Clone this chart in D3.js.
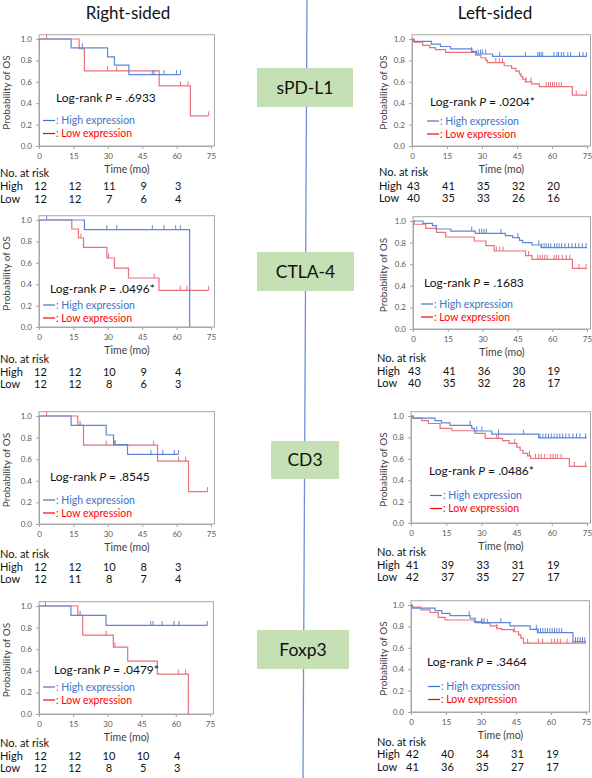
<!DOCTYPE html>
<html><head><meta charset="utf-8">
<script src="https://cdn.jsdelivr.net/npm/d3@7"></script>
<style>body{margin:0;background:#fff}svg{display:block;font-family:Lato,'Open Sans',sans-serif}</style>
</head><body><svg id="c" width="592" height="778"></svg>
<script>
// ---------- DATA ----------
const sides = ["Right-sided", "Left-sided"];
const markers = ["sPD-L1", "CTLA-4", "CD3", "Foxp3"];
const xTicks = [0, 15, 30, 45, 60, 75];
const yTicks = [0, 0.2, 0.4, 0.6, 0.8, 1.0];
const riskTimes = [0, 15, 30, 45, 60];
const seriesNames = ["High expression", "Low expression"];
const pValues = [".6933", ".0204*", ".0496*", ".1683", ".8545", ".0486*", ".0479*", ".3464"];

// sPD-L1 right-sided
const p1HiSteps = [[0,1],[14,0.917],[29.9,0.833],[32.9,0.756],[39.2,0.667]];
const p1HiEnd = 61.7;
const p1HiCens = [18.9,49.4,50.2,54.5,59.9,61.7];
const p1LoSteps = [[0,1],[17.5,0.909],[19.8,0.703],[52.4,0.562],[66,0.281]];
const p1LoEnd = 74;
const p1LoCens = [3.3,29.9,33.9,61.7,65,74];
const p1RiskHigh = [12,12,11,9,3];
const p1RiskLow = [12,12,7,6,4];

// sPD-L1 left-sided
const p2HiSteps = [[0,1],[0.5,0.977],[8.3,0.953],[12.2,0.93],[16.5,0.907],[25.6,0.884],[27.6,0.86],[34.5,0.837]];
const p2HiEnd = 75;
const p2HiCens = [25.6,28.4,29.4,30.2,31.6,37.6,48.6,53.9,54.6,55.3,56.0,60.8,62.1,62.8,64.0,65.0,66.8,68.0,71.8,73.3,74.7];
const p2LoSteps = [[0,1],[1,0.97],[4.6,0.94],[7.6,0.92],[10,0.9],[14.4,0.875],[27.3,0.85],[29.5,0.825],[31.6,0.8],[32.3,0.78],[39.5,0.75],[42.7,0.725],[44.5,0.7],[46,0.675],[46.7,0.65],[47.4,0.625],[48.6,0.6],[51.3,0.58],[54.6,0.555],[68.7,0.475]];
const p2LoEnd = 75;
const p2LoCens = [35.9,37.4,38.8,48.9,51.0,57.5,58.5,59.3,60.2,61.0,62.0,63.0,64.0,70.4,74.7];
const p2RiskHigh = [43,41,35,32,20];
const p2RiskLow = [40,35,33,26,16];

// CTLA-4 right-sided
const p3HiSteps = [[0,1],[19.8,0.91],[65.7,0]];
const p3HiEnd = 65.7;
const p3HiCens = [3.3,29.6,33.9,49.4,54.5,59.6,61.6];
const p3LoSteps = [[0,1],[14.3,0.916],[17.2,0.832],[19.4,0.745],[29.6,0.645],[32.9,0.551],[39,0.458],[52.3,0.343]];
const p3LoEnd = 74;
const p3LoCens = [18.3,30.3,50.2,61.6,64.5,74];
const p3RiskHigh = [12,12,10,9,4];
const p3RiskLow = [12,12,8,6,3];

// CTLA-4 left-sided
const p4HiSteps = [[0,1],[4.3,0.978],[8.4,0.957],[10.1,0.926],[16.3,0.907],[26.8,0.886],[39.8,0.864],[43,0.846],[45.9,0.821],[47.3,0.8],[51.3,0.778],[55.2,0.753]];
const p4HiEnd = 75;
const p4HiCens = [25.3,28.6,29.6,30.6,31.6,37.9,45.2,54.2,55.5,56.5,57.4,58.4,59.4,61.0,62.0,63.0,64.0,65.5,67.0,68.5,70.0,71.5,73.0,74.6];
const p4LoSteps = [[0,1],[0.5,0.97],[5.5,0.932],[10.1,0.895],[14.1,0.852],[26.4,0.815],[31.4,0.772],[35,0.722],[48.5,0.679],[51.3,0.645],[68.7,0.562]];
const p4LoEnd = 75;
const p4LoCens = [35.9,37.4,38.8,49.8,53.8,54.8,55.8,56.8,57.8,60.8,61.8,62.8,64.4,66.0,67.6,71.5,74.6];
const p4RiskHigh = [43,41,36,30,19];
const p4RiskLow = [40,35,32,28,17];

// CD3 right-sided
const p5HiSteps = [[0,1],[14,0.914],[29.3,0.824],[32.5,0.735],[38.6,0.645]];
const p5HiEnd = 60.9;
const p5HiCens = [17.9,33.2,48.8,54,59,60.9];
const p5LoSteps = [[0,1],[16.9,0.914],[19.4,0.73],[51.7,0.583],[65.2,0.3]];
const p5LoEnd = 73.5;
const p5LoCens = [3.3,29.3,32.9,50,60.9,64,73.5];
const p5RiskHigh = [12,12,10,8,3];
const p5RiskLow = [12,11,8,7,4];

// CD3 left-sided
const p6HiSteps = [[0,1],[1,0.98],[10.2,0.956],[13,0.935],[16.6,0.912],[25.9,0.884],[27,0.86],[34.4,0.83],[54.4,0.795]];
const p6HiEnd = 75;
const p6HiCens = [25.2,28,30.2,37.3,48,55,56.2,57.4,58.6,59.8,61.0,62.2,63.4,64.6,66.0,67.4,69.0,70.5,72.0,74.4];
const p6LoSteps = [[0,1],[0.5,0.98],[4.6,0.956],[7.4,0.93],[12.4,0.884],[17.4,0.862],[27.3,0.837],[31.6,0.79],[39,0.77],[41.8,0.744],[45.1,0.71],[46.5,0.68],[47.7,0.65],[49.7,0.628],[51,0.603],[67.5,0.53]];
const p6LoEnd = 75;
const p6LoCens = [36.5,37.3,44.2,50.5,53,54.5,55.5,57,59.5,60.5,61.5,62.5,64,69.5,74.4];
const p6RiskHigh = [41,39,33,31,19];
const p6RiskLow = [42,37,35,27,17];

// Foxp3 right-sided
const p7HiSteps = [[0,1],[14,0.914],[29.4,0.82]];
const p7HiEnd = 73.8;
const p7HiCens = [18,49,50,54,59.2,61.4,73.8];
const p7LoSteps = [[0,1],[17,0.914],[19.2,0.73],[32.6,0.62],[38.9,0.49],[51.9,0.37],[65.5,0]];
const p7LoEnd = 65.5;
const p7LoCens = [2.8,29.4,33.3,61.1,64.3];
const p7RiskHigh = [12,12,10,10,4];
const p7RiskLow = [12,12,8,5,3];

// Foxp3 left-sided
const p8HiSteps = [[0,1],[0.5,0.97],[10.3,0.947],[13.2,0.922],[16.7,0.9],[25.3,0.876],[27.5,0.835],[42.5,0.804],[51.1,0.773],[54.2,0.742],[69.4,0.658]];
const p8HiEnd = 75;
const p8HiCens = [24.9,30.3,31.3,38.5,53.7,54.5,55.5,56.5,57.5,58.5,59.5,60.5,61.5,62.5,63.5,64.6,70.5,71.5,72.5,73.5,74.5];
const p8LoSteps = [[0,1],[0.5,0.98],[4.2,0.955],[8.2,0.93],[11.7,0.885],[14.6,0.86],[27,0.845],[30.3,0.83],[33.9,0.804],[36.8,0.78],[38.9,0.77],[43.9,0.75],[46.1,0.72],[47.1,0.69],[48.2,0.643]];
const p8LoEnd = 75;
const p8LoCens = [30.3,32.8,36.8,44.3,50,54.5,56.4,60.3,61.5,62.7,64,66.9,70.5];
const p8RiskHigh = [42,40,34,31,19];
const p8RiskLow = [41,36,35,27,17];

// ---------- ASSEMBLY (no positions in data) ----------
const panelsData = [
  {hi:[p1HiSteps,p1HiEnd,p1HiCens], lo:[p1LoSteps,p1LoEnd,p1LoCens], rh:p1RiskHigh, rl:p1RiskLow},
  {hi:[p2HiSteps,p2HiEnd,p2HiCens], lo:[p2LoSteps,p2LoEnd,p2LoCens], rh:p2RiskHigh, rl:p2RiskLow},
  {hi:[p3HiSteps,p3HiEnd,p3HiCens], lo:[p3LoSteps,p3LoEnd,p3LoCens], rh:p3RiskHigh, rl:p3RiskLow},
  {hi:[p4HiSteps,p4HiEnd,p4HiCens], lo:[p4LoSteps,p4LoEnd,p4LoCens], rh:p4RiskHigh, rl:p4RiskLow},
  {hi:[p5HiSteps,p5HiEnd,p5HiCens], lo:[p5LoSteps,p5LoEnd,p5LoCens], rh:p5RiskHigh, rl:p5RiskLow},
  {hi:[p6HiSteps,p6HiEnd,p6HiCens], lo:[p6LoSteps,p6LoEnd,p6LoCens], rh:p6RiskHigh, rl:p6RiskLow},
  {hi:[p7HiSteps,p7HiEnd,p7HiCens], lo:[p7LoSteps,p7LoEnd,p7LoCens], rh:p7RiskHigh, rl:p7RiskLow},
  {hi:[p8HiSteps,p8HiEnd,p8HiCens], lo:[p8LoSteps,p8LoEnd,p8LoCens], rh:p8RiskHigh, rl:p8RiskLow}
];

// layout (pixel geometry)
const layout = [
  {x0:39, x1:211, y1:39, y0:146, lr:[56,102], lg:[43,120.5,133.5], rk:[177,190,203], rx:0},
  {x0:412,x1:587, y1:39, y0:146, lr:[430,106], lg:[427,121,134], rk:[176,190,202], rx:379},
  {x0:39, x1:211, y1:220,y0:327, lr:[50,293], lg:[43,305,318], rk:[363,376,388], rx:0},
  {x0:413,x1:587, y1:221,y0:329, lr:[424,287], lg:[421,304,317], rk:[362,375,387], rx:377},
  {x0:39, x1:211, y1:416,y0:524, lr:[50,481], lg:[43,500,513], rk:[558,571,583], rx:0},
  {x0:411,x1:587, y1:416,y0:523, lr:[429,475], lg:[430,495.5,508.5], rk:[556,569,581], rx:377},
  {x0:39, x1:210, y1:606,y0:714, lr:[54,674], lg:[43,687,700], rk:[747,760,772], rx:0},
  {x0:411,x1:586, y1:605,y0:712, lr:[427,666], lg:[428,686.5,699.5], rk:[746,758,771], rx:377}
];

const C_HI = "#5d87d6", C_LO = "#e8707c";
const C_HI_LEG = "#4472c4", C_LO_LEG = "#ff0000";

const svg = d3.select("#c");

// divider line
svg.append("line").attr("x1",307).attr("y1",0).attr("x2",303).attr("y2",778)
  .attr("stroke","#6f8fd6").attr("stroke-width",1.3);

// headers
svg.append("text").attr("x",128).attr("y",19).attr("text-anchor","middle")
  .attr("font-size",17).attr("fill","#111").text(sides[0]);
svg.append("text").attr("x",495).attr("y",19).attr("text-anchor","middle")
  .attr("font-size",17).attr("fill","#111").text(sides[1]);

// marker boxes
const boxes = [[257,68,96,39],[257,252,97,39],[271,441,68,38],[257,630,92,39]];
markers.forEach((m,i)=>{
  const b = boxes[i];
  svg.append("rect").attr("x",b[0]).attr("y",b[1]).attr("width",b[2]).attr("height",b[3]).attr("fill","#c5e0b4");
  svg.append("text").attr("x",b[0]+b[2]/2).attr("y",b[1]+b[3]/2+6).attr("text-anchor","middle")
    .attr("font-size",17.5).attr("fill","#111").text(m);
});

function survAt(steps, t){
  let s = steps[0][1];
  for (const [tt,ss] of steps){ if (tt <= t) s = ss; }
  return s;
}

panelsData.forEach((pd,i)=>{
  const L = layout[i];
  const x = d3.scaleLinear().domain([0,75]).range([L.x0,L.x1]);
  const y = d3.scaleLinear().domain([0,1]).range([L.y0,L.y1]);
  const g = svg.append("g");

  // frame
  g.append("rect").attr("x",L.x0).attr("y",y(1.04)).attr("width",x(76.5)-L.x0).attr("height",L.y0-y(1.04))
    .attr("fill","none").attr("stroke","#a6a6a6").attr("stroke-width",1);

  // axes
  const ax = g.append("g").attr("transform",`translate(0,${L.y0})`)
    .call(d3.axisBottom(x).tickValues(xTicks).tickSize(3).tickFormat(d3.format("d")));
  const ay = g.append("g").attr("transform",`translate(${L.x0},0)`)
    .call(d3.axisLeft(y).tickValues(yTicks).tickSize(3).tickFormat(d3.format(".1f")));
  [ax,ay].forEach(a=>{
    a.select(".domain").attr("stroke","#a6a6a6");
    a.selectAll(".tick line").attr("stroke","#a6a6a6");
    a.selectAll(".tick text").attr("font-size",8).attr("fill","#595959").attr("font-family","Lato,'Open Sans',sans-serif");
  });
  ax.selectAll(".tick text").attr("dy","0.9em");
  ay.selectAll(".tick text").attr("dx","-1");

  // axis titles
  g.append("text").attr("x",(L.x0+L.x1)/2+2).attr("y",L.y0+27).attr("text-anchor","middle")
    .attr("font-size",10.5).attr("fill","#404040").text("Time (mo)");
  const ylx = i%2===0 ? 10 : 387;
  g.append("text").attr("transform",`translate(${ylx},${(L.y0+L.y1)/2})rotate(-90)`)
    .attr("text-anchor","middle").attr("font-size",10).attr("fill","#404040").text("Probability of OS");

  // curves
  const line = d3.line().x(d=>x(d[0])).y(d=>y(d[1])).curve(d3.curveStepAfter);
  [[pd.lo,C_LO],[pd.hi,C_HI]].forEach(([ser,col])=>{
    const [steps,end,cens] = ser;
    const pts = steps.concat([[end, steps[steps.length-1][1]]]);
    g.append("path").attr("d",line(pts)).attr("fill","none").attr("stroke",col).attr("stroke-width",1.2);
    g.selectAll(null).data(cens).enter().append("line")
      .attr("x1",d=>x(d)).attr("x2",d=>x(d))
      .attr("y1",d=>y(survAt(steps,d))).attr("y2",d=>y(survAt(steps,d))-4.5)
      .attr("stroke",col).attr("stroke-width",1);
  });

  // log-rank text
  const t = g.append("text").attr("x",L.lr[0]).attr("y",L.lr[1]).attr("font-size",12).attr("fill","#111");
  t.append("tspan").text("Log-rank ");
  t.append("tspan").attr("font-style","italic").text("P");
  t.append("tspan").text(" =  " + pValues[i]);

  // legend
  [[seriesNames[0],C_HI_LEG,L.lg[1]],[seriesNames[1],C_LO_LEG,L.lg[2]]].forEach(([nm,col,yy])=>{
    g.append("line").attr("x1",L.lg[0]).attr("x2",L.lg[0]+12).attr("y1",yy).attr("y2",yy)
      .attr("stroke",col).attr("stroke-width",1.2);
    g.append("text").attr("x",L.lg[0]+13).attr("y",yy+3.5).attr("font-size",10.5).attr("fill",col).text(": "+nm);
  });

  // at risk table
  g.append("text").attr("x",L.rx).attr("y",L.rk[0]).attr("font-size",11).attr("fill","#111").text("No. at risk");
  [["High",pd.rh,L.rk[1]],["Low",pd.rl,L.rk[2]]].forEach(([lab,vals,yy])=>{
    g.append("text").attr("x",L.rx).attr("y",yy).attr("font-size",11).attr("fill","#111").text(lab);
    g.selectAll(null).data(vals).enter().append("text")
      .attr("x",(d,k)=>x(riskTimes[k])+1.5).attr("y",yy).attr("text-anchor","middle")
      .attr("font-size",11).attr("fill","#111").text(d=>d);
  });
});
</script></body></html>
